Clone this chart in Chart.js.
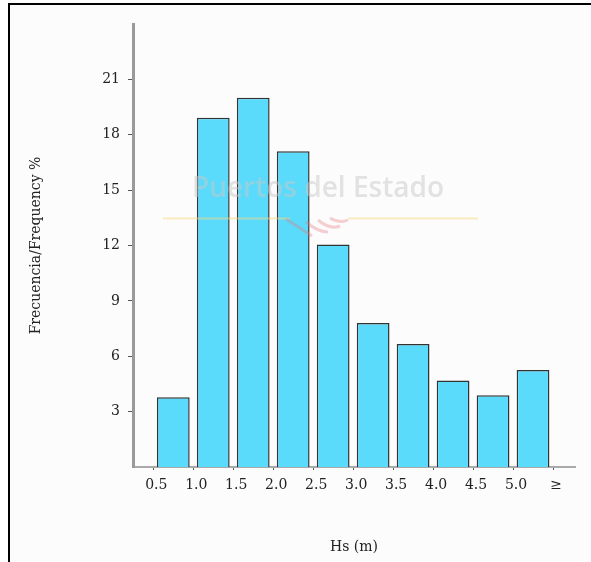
<!DOCTYPE html>
<html>
<head>
<meta charset="utf-8">
<script src="https://cdn.jsdelivr.net/npm/chart.js@4.4.0/dist/chart.umd.min.js"></script>
<style>
  html, body { margin: 0; padding: 0; background: #fff; }
  #wrap { width: 591px; height: 562px; }
</style>
</head>
<body>
<div id="wrap"><canvas id="chart" width="591" height="562"></canvas></div>
<script>
// bin centres (Hs, m) and frequency in %
const binCenters = [0.75, 1.25, 1.75, 2.25, 2.75, 3.25, 3.75, 4.25, 4.75, 5.25];
const frequency = [3.78, 18.92, 20.0, 17.1, 12.05, 7.8, 6.66, 4.68, 3.89, 5.26];
const xTicks = [0.5, 1.0, 1.5, 2.0, 2.5, 3.0, 3.5, 4.0, 4.5, 5.0, 5.5];
const yTicks = [3, 6, 9, 12, 15, 18, 21];

const serif = 'DejaVu Serif';

// frame + background
const framePlugin = {
  id: 'frame',
  beforeDraw(chart) {
    const ctx = chart.ctx;
    ctx.save();
    ctx.fillStyle = '#ffffff';
    ctx.fillRect(0, 0, chart.width, chart.height);
    ctx.fillStyle = '#fcfcfc';
    ctx.fillRect(8, 3, chart.width - 8, chart.height - 3);
    ctx.fillStyle = '#000';
    ctx.fillRect(8, 3, 2, chart.height - 3);
    ctx.fillRect(8, 3, chart.width - 8, 2);
    ctx.restore();
  }
};

// faint watermark over the plot
const watermarkPlugin = {
  id: 'watermark',
  afterDatasetsDraw(chart) {
    const ctx = chart.ctx;
    ctx.save();
    ctx.font = '600 28px "Open Sans"';
    ctx.textAlign = 'center';
    ctx.textBaseline = 'alphabetic';
    ctx.fillStyle = 'rgba(200,200,200,0.5)';
    ctx.fillText('Puertos del Estado', 318, 197);
    ctx.strokeStyle = 'rgba(248,215,130,0.5)';
    ctx.lineWidth = 2;
    ctx.beginPath();
    ctx.moveTo(163, 218.5); ctx.lineTo(290, 218.5);
    ctx.moveTo(348, 218.5); ctx.lineTo(478, 218.5);
    ctx.stroke();
    ctx.strokeStyle = 'rgba(230,120,130,0.35)';
    ctx.lineWidth = 3;
    ctx.beginPath();
    ctx.moveTo(286, 219); ctx.quadraticCurveTo(300, 228, 312, 236);
    ctx.moveTo(306, 222); ctx.quadraticCurveTo(318, 232, 328, 232);
    ctx.moveTo(318, 220); ctx.quadraticCurveTo(330, 230, 340, 226);
    ctx.moveTo(330, 218); ctx.quadraticCurveTo(340, 224, 348, 220);
    ctx.stroke();
    ctx.restore();
  }
};

const ctx = document.getElementById('chart').getContext('2d');
new Chart(ctx, {
  type: 'bar',
  data: {
    datasets: [{
      data: binCenters.map((x, i) => ({x: x, y: frequency[i]})),
      backgroundColor: '#5bdbfb',
      borderColor: '#333',
      borderWidth: 1.5,
      barPercentage: 0.82,
      categoryPercentage: 1.0
    }]
  },
  options: {
    responsive: false,
    animation: false,
    layout: { padding: { left: 0, top: 24, right: 16, bottom: 0 } },
    plugins: {
      legend: { display: false },
      tooltip: { enabled: false }
    },
    scales: {
      x: {
        type: 'linear',
        offset: false,
        min: 0.246,
        max: 5.775,
        afterBuildTicks: (scale) => { scale.ticks = xTicks.map(v => ({value: v})); },
        afterFit: (scale) => { scale.height = 95; },
        grid: { offset: false, drawOnChartArea: false, drawTicks: true, tickLength: 3, tickColor: '#555' },
        border: { color: '#aaa', width: 2 },
        ticks: {
          autoSkip: false,
          maxRotation: 0,
          padding: 7,
          labelOffset: 3,
          color: '#222',
          font: { family: serif, size: 14 },
          callback: (v) => v === 5.5 ? '\u2265' : Number(v).toFixed(1)
        },
        title: {
          display: true,
          text: 'Hs (m)',
          color: '#222',
          font: { family: serif, size: 14 },
          padding: { top: 0, bottom: 6 }
        }
      },
      y: {
        min: 0,
        max: 24,
        afterBuildTicks: (scale) => { scale.ticks = yTicks.map(v => ({value: v})); },
        afterFit: (scale) => { scale.width = 133; },
        grid: { drawOnChartArea: false, drawTicks: true, tickLength: 5, tickColor: '#555' },
        border: { color: '#999', width: 3 },
        ticks: {
          padding: 8,
          color: '#222',
          font: { family: serif, size: 14 }
        },
        title: {
          display: true,
          text: 'Frecuencia/Frequency %',
          color: '#222',
          font: { family: serif, size: 14 },
          padding: { top: 28, bottom: 0 }
        }
      }
    }
  },
  plugins: [framePlugin, watermarkPlugin]
});
</script>
</body>
</html>
